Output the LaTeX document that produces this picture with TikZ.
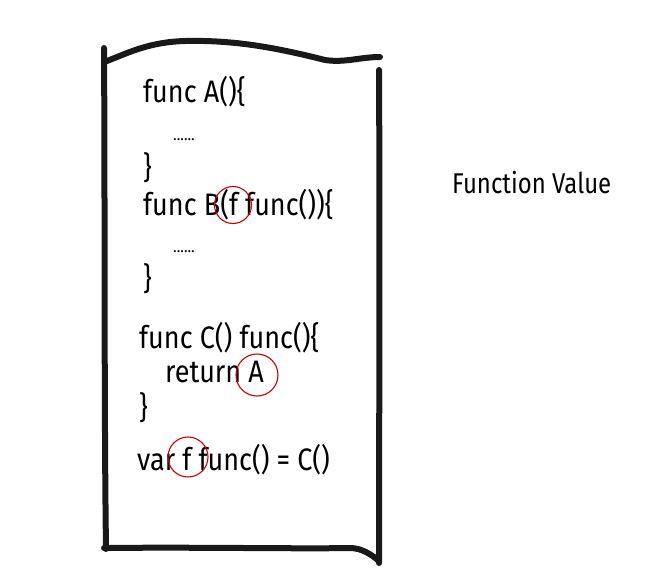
\documentclass[tikz,border=0pt]{standalone}
\usepackage{fontspec}
\setmainfont{Fira Sans}
\begin{document}
\begin{tikzpicture}[x=1pt,y=-1pt,
  code/.style={anchor=base west,inner sep=0pt,font=\fontsize{27}{30}\selectfont,yscale=1.15,transform shape},
  dots/.style={anchor=base west,inner sep=0pt,font=\fontsize{15}{18}\selectfont},
  frame/.style={line width=6pt,line cap=round,line join=round,black!90},
  mark/.style={draw=red!80!black,line width=1.1pt,circle,inner sep=0pt,minimum size=#1},
]
\useasboundingbox (0,0) rectangle (662,570);
% frame
\draw[frame] (104,48) .. controls (105,200) and (104,400) .. (106,549);
\draw[frame] (107,61) .. controls (130,52) and (150,42) .. (185,41)
  .. controls (230,40) and (270,46) .. (325,60)
  .. controls (345,63) and (360,57) .. (380,57);
\draw[frame] (379,70) .. controls (380,250) and (379,450) .. (379,563);
\draw[frame] (104,548) .. controls (200,547) and (300,549) .. (350,548)
  .. controls (362,548) and (372,555) .. (379,561);
% code
\node[code] (l1) at (143,102) {func A()\{};
\node[dots] (l2) at (173,140) {......};
\node[code] (l3) at (143,178) {\}};
\node[code] (l4) at (143,215) {func B(f func())\{};
\node[dots] (l5) at (173,252) {......};
\node[code] (l6) at (143,289) {\}};
\node[code] (l7) at (139,348) {func C() func()\{};
\node[code] (l8) at (165,382) {return A};
\node[code] (l9) at (139,418) {\}};
\node[code] (l10) at (137,470) {var f func() = C()};
% marks
\node[mark=37pt] (m1) at (233,205) {};
\node[mark=42pt] (m2) at (257,375) {};
\node[mark=40pt] (m3) at (188,457) {};
% label
\node[anchor=base west,inner sep=0pt,font=\fontsize{26}{30}\selectfont,xscale=0.92,yscale=1.1,transform shape] (fv) at (452,193) {Function Value};
\end{tikzpicture}
\end{document}
